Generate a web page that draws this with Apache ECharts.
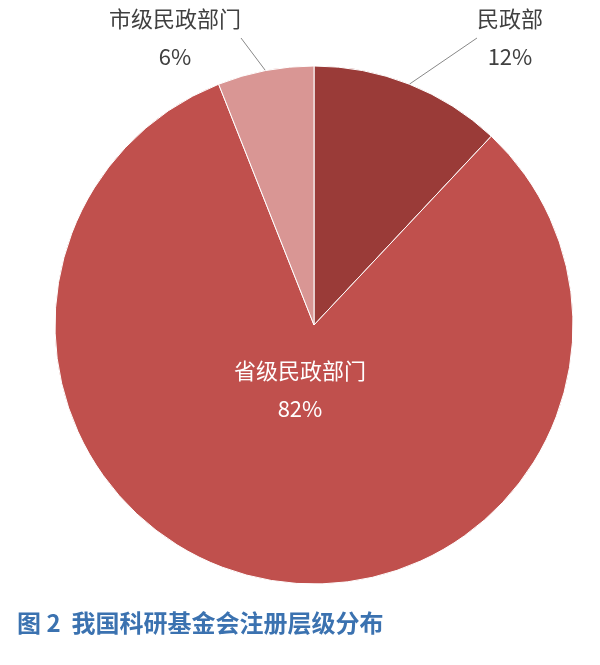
<!DOCTYPE html>
<html><head><meta charset="utf-8">
<script src="https://cdn.jsdelivr.net/npm/echarts@6/dist/echarts.min.js"></script>
<style>html,body{margin:0;padding:0;background:#fff}#c{width:600px;height:665px}</style>
</head><body><div id="c"></div>
<script>
const categories = ['民政部', '省级民政部门', '市级民政部门'];
const values = [12, 82, 6];
const colors = ['#9A3B38', '#C0504D', '#D99694'];
const title = '图 2  我国科研基金会注册层级分布';

const chart = echarts.init(document.getElementById('c'));
const labelPos = [
  {x: 510, y: 38, inside: false},
  {x: 300, y: 390, inside: true},
  {x: 175, y: 38, inside: false}
];
chart.setOption({
  animation: false,
  title: {text: title, left: 12, top: 606, textStyle: {fontFamily: 'Noto Sans CJK SC', fontSize: 24, fontWeight: 'bold', color: '#3B72B0'}},
  series: [{
    type: 'pie', center: [314, 325], radius: [0, 259], startAngle: 90, clockwise: true,
    data: categories.map((n, i) => ({name: n, value: values[i],
      itemStyle: {color: colors[i]},
      label: {color: i === 1 ? '#fff' : '#404040'},
      labelLine: {show: i !== 1}
    })),
    itemStyle: {borderColor: '#fff', borderWidth: 1},
    label: {position: 'outside', formatter: '{b}\n{d}%', fontSize: 22, lineHeight: 38, fontFamily: 'Noto Sans CJK SC', align: 'center'},
    labelLine: {lineStyle: {color: '#888', width: 1}, length: 10, length2: 0},
    labelLayout: function (p) {
      const l = labelPos[p.dataIndex];
      return {x: l.x, y: l.y, align: 'center', verticalAlign: 'middle'};
    }
  }]
});
</script></body></html>
